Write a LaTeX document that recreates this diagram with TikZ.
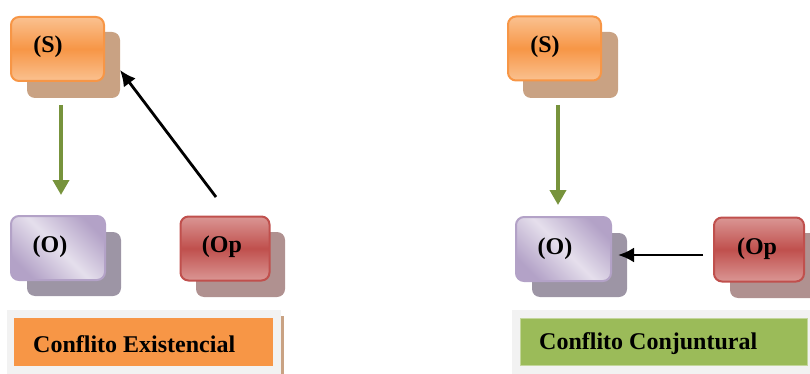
\documentclass[tikz,border=0pt]{standalone}
\usepackage{fontspec}
\setmainfont{Liberation Serif}
\usetikzlibrary{arrows.meta}
\definecolor{orgM}{HTML}{F79646}
\definecolor{orgL}{HTML}{FAC190}
\definecolor{orgSh}{HTML}{C9A283}
\definecolor{purM}{HTML}{E5DFEC}
\definecolor{purD}{HTML}{B3A2C7}
\definecolor{purSh}{HTML}{9D95A5}
\definecolor{redM}{HTML}{C0504D}
\definecolor{redL}{HTML}{DA9694}
\definecolor{redSh}{HTML}{B09190}
\definecolor{grnL}{HTML}{9BBB59}
\definecolor{grnA}{HTML}{77933C}
\definecolor{grayBg}{HTML}{F2F2F2}
\definecolor{tanLine}{HTML}{C9A283}
\begin{document}
\begin{tikzpicture}[x=1pt,y=-1pt,
  shadowbox/.style={rounded corners=8pt, inner sep=0pt, minimum width=#1},
  sfront/.style={draw=orgM, line width=2pt, rounded corners=8pt, inner sep=0pt,
    top color=orgL, bottom color=orgL, middle color=orgM,
    minimum width=93pt, minimum height=64pt},
  ofront/.style={draw=purD, line width=2pt, rounded corners=8pt, inner sep=0pt,
    top color=purD, bottom color=purD, middle color=purM, shading angle=-45,
    minimum width=94pt, minimum height=64pt},
  opfront/.style={draw=redM, line width=2pt, rounded corners=8pt, inner sep=0pt,
    top color=redL, bottom color=redL, middle color=redM,
    minimum width=89pt, minimum height=64pt},
  lbl/.style={font=\fontsize{24}{28}\selectfont\bfseries, inner sep=0pt},
  bigl/.style={font=\fontsize{24}{28}\selectfont\bfseries, inner sep=0pt, anchor=west},
  garrow/.style={draw=grnA, line width=3.6pt, -{Triangle[length=15pt,width=16pt]}},
  karrow/.style={draw=black, line width=2.8pt, -{Latex[length=16pt,width=15pt]}}
]
\useasboundingbox (0,0) rectangle (810,374);

% ---------- left diagram ----------
\node[shadowbox=93pt, minimum height=66pt, fill=orgSh] (LSs) at (73.5,65) {};
\node[sfront] (LS) at (57.5,49) {};
\node[lbl] (LSt) at (48,46.5) {(S)};

\node[shadowbox=94pt, minimum height=64pt, fill=purSh] (LOs) at (74,264) {};
\node[ofront] (LO) at (58,248) {};
\node[lbl] (LOt) at (50,246.5) {(O)};

\node[shadowbox=89pt, minimum height=65pt, fill=redSh] (LOps) at (240.5,264.5) {};
\node[opfront] (LOp) at (225,248.5) {};
\node[lbl] (LOpt) at (222,246.5) {(Op};

\coordinate (LgA) at (61,105);
\coordinate (LgB) at (61,195);
\draw[garrow] (LgA) -- (LgB);
\coordinate (LkA) at (216,197);
\coordinate (LkB) at (120,70);
\draw[karrow] (LkA) -- (LkB);

\node[fill=grayBg, inner sep=0pt, minimum width=274pt, minimum height=64pt] (LLbg) at (144,342) {};
\node[fill=orgM, inner sep=0pt, minimum width=259pt, minimum height=48pt] (LL) at (143.5,342) {};
\node[fill=tanLine, inner sep=0pt, minimum width=2.5pt, minimum height=58pt] (LLline) at (282.5,345) {};
\node[bigl] (LLt) at (33,344) {Conflito Existencial};

% ---------- right diagram ----------
\node[shadowbox=95pt, minimum height=66pt, fill=orgSh] (RSs) at (570.5,65) {};
\node[sfront] (RS) at (554.5,48.5) {};
\node[lbl] (RSt) at (545,46.5) {(S)};

\node[shadowbox=95pt, minimum height=64pt, fill=purSh] (ROs) at (579.5,265) {};
\node[ofront, minimum width=95pt] (RO) at (563.5,249) {};
\node[lbl] (ROt) at (555,248.5) {(O)};

\node[shadowbox=92pt, minimum height=65pt, fill=redSh] (ROps) at (776,265.5) {};
\node[opfront, minimum width=90pt] (ROp) at (759,249.5) {};
\node[lbl] (ROpt) at (757,248.5) {(Op};

\coordinate (RgA) at (558,105);
\coordinate (RgB) at (558,205);
\draw[garrow] (RgA) -- (RgB);
\coordinate (RkA) at (703,255);
\coordinate (RkB) at (618,255);
\draw[karrow] (RkA) -- (RkB);

\node[fill=grayBg, inner sep=0pt, minimum width=298pt, minimum height=64pt] (RLbg) at (661,342) {};
\node[fill=grnL, draw=grnL!60!white, line width=0.8pt, inner sep=0pt, minimum width=287pt, minimum height=47pt] (RL) at (664,342) {};
\node[bigl] (RLt) at (539,344) {Conflito Conjuntural};
\end{tikzpicture}
\end{document}
